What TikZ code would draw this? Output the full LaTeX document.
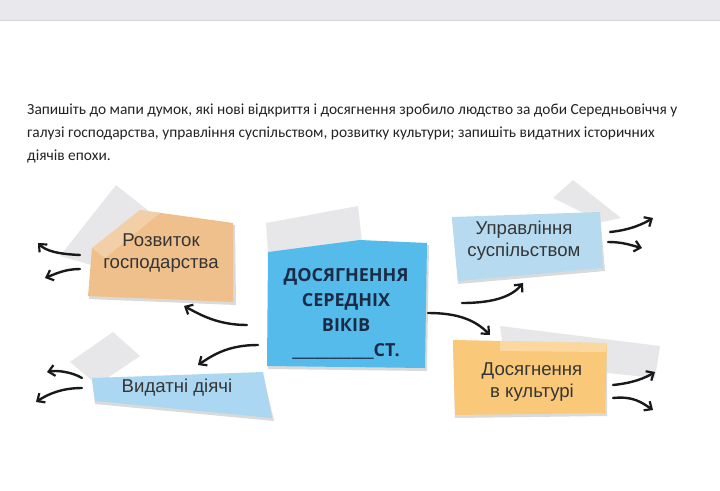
\documentclass[tikz,border=0pt]{standalone}
\usepackage{fontspec}
\setmainfont{Liberation Sans}
\newfontfamily\instrfont{Carlito}
\newfontfamily\headfont{Open Sans}
\usetikzlibrary{arrows.meta}
\definecolor{barcol}{HTML}{E9E9ED}
\definecolor{barline}{HTML}{D6D6DE}
\definecolor{orangeA}{HTML}{EFC08C}
\definecolor{orangeB}{HTML}{F9C878}
\definecolor{blueC}{HTML}{55BBEB}
\definecolor{blueL}{HTML}{ABD7F2}
\definecolor{blueU}{HTML}{B6DBF0}
\definecolor{tapecol}{HTML}{E7E7EA}
\definecolor{shadowcol}{HTML}{DADADA}
\definecolor{labelcol}{HTML}{353535}
\definecolor{headcol}{HTML}{1B2A45}
\definecolor{instrcol}{HTML}{232323}
\tikzset{
  arr/.style={line width=2.4pt, line cap=round, black!90,
    -{Straight Barb[length=6pt,width=11pt,line width=2.2pt]}},
  tape/.style={fill=tapecol, draw=none},
  shade/.style={fill=shadowcol, draw=none},
  lbl/.style={font=\fontsize{18.6}{22}\selectfont, text=labelcol, align=center, inner sep=0pt},
  instr/.style={font=\instrfont\fontsize{15.4}{16}\selectfont, text=instrcol, anchor=base west, inner sep=0pt},
  head/.style={font=\headfont\bfseries\fontsize{18}{25}\selectfont, text=headcol, align=center, inner sep=0pt}
}
\begin{document}
\begin{tikzpicture}[x=1pt,y=-1pt]
\useasboundingbox (0,0) rectangle (720,490);
\fill[white] (0,0) rectangle (720,490);
% top bar
\fill[barcol] (0,0) rectangle (720,20);
\draw[barline, line width=1pt] (0,20.5) -- (720,20.5);

% instruction text
\node[instr] (l1) at (27,114) {Запишіть до мапи думок, які нові відкриття і досягнення зробило людство за доби Середньовіччя у};
\node[instr] (l2) at (27,137) {галузі господарства, управління суспільством, розвитку культури; запишіть видатних історичних};
\node[instr] (l3) at (27,160) {діячів епохи.};

% ---- note: Розвиток господарства
\fill[tape] (60,256) -- (116,185) -- (150,212) -- (95,266) -- cycle;
\fill[shade] (92,250) -- (140,212) -- (235,225) -- (236,305) -- (89,299) -- cycle;
\fill[orangeA] (92,248) -- (140,210) -- (233,223) -- (233,302) -- (88,296) -- cycle;
\fill[white, opacity=0.25] (92,248) -- (140,210) -- (160,213) -- (105,258) -- cycle;
\node[lbl] (rozv) at (161,253) {Розвиток\\господарства};

% ---- note: Видатні діячі
\fill[tape] (70,362) -- (113,332) -- (140,356) -- (97,385) -- cycle;
\fill[shade] (92,380) -- (263,374) -- (274,421) -- (95,404) -- cycle;
\fill[blueL] (92,378) -- (263,372) -- (272,418) -- (95,401) -- cycle;
\node[lbl] (vyd) at (177,388) {Видатні діячі};

% ---- center note
\fill[tape] (266,223) -- (358,206) -- (362,242) -- (268,252) -- cycle;
\fill[shade] (268,254) -- (360,242) -- (429,245) -- (427,371) -- (268,369) -- cycle;
\fill[blueC] (268,252) -- (360,240) -- (427,243) -- (425,368) -- (267,366) -- cycle;
\node[head] (cent) at (346,314) {ДОСЯГНЕННЯ\\СЕРЕДНІХ\\ВІКІВ\\\_\_\_\_\_\_\_\_\_\_\_СТ.};

% ---- note: Управління суспільством
\fill[tape] (553,198) -- (573,180) -- (621,218) -- (602,222) -- cycle;
\fill[shade] (452,219) -- (600,214) -- (605,271) -- (458,284) -- cycle;
\fill[blueU] (452,217) -- (600,212) -- (603,268) -- (458,281) -- cycle;
\node[lbl] (upr) at (524,241) {Управління\\суспільством};

% ---- note: Досягнення в культурі
\fill[tape] (500,326) -- (660,346) -- (655,378) -- (505,362) -- cycle;
\fill[shade] (453,342) -- (607,345) -- (607,416) -- (455,418) -- cycle;
\fill[orangeB] (453,340) -- (607,343) -- (605,413) -- (455,415) -- cycle;
\fill[white, opacity=0.3] (500,341) -- (607,343) -- (606,352) -- (500,351) -- cycle;
\node[lbl] (kult) at (532,382) {Досягнення\\в культурі};

% ---- arrow coordinates
\coordinate (a1s) at (80,255);  \coordinate (a1e) at (38,243);
\coordinate (a2s) at (80,269);  \coordinate (a2e) at (45,278);
\coordinate (a3s) at (247,325); \coordinate (a3e) at (184,306);
\coordinate (a4s) at (258,345); \coordinate (a4e) at (198,365);
\coordinate (a5s) at (82,378);  \coordinate (a5e) at (47,372);
\coordinate (a6s) at (82,388);  \coordinate (a6e) at (36,402);
\coordinate (a7s) at (462,303); \coordinate (a7e) at (523,283);
\coordinate (a8s) at (428,313); \coordinate (a8e) at (490,335);
\coordinate (a9s) at (610,232); \coordinate (a9e) at (653,218);
\coordinate (a10s) at (608,242); \coordinate (a10e) at (642,248);
\coordinate (a11s) at (613,385); \coordinate (a11e) at (655,372);
\coordinate (a12s) at (613,398); \coordinate (a12e) at (653,410);

\draw[arr] (a1s) .. controls +(-22,-1) and +(8,8) .. (a1e);
\draw[arr] (a2s) .. controls +(-15,0) and +(10,-4) .. (a2e);
\draw[arr] (a3s) .. controls +(-30,0) and +(15,8) .. (a3e);
\draw[arr] (a4s) .. controls +(-30,0) and +(15,-10) .. (a4e);
\draw[arr] (a5s) .. controls +(-10,-6) and +(10,-2) .. (a5e);
\draw[arr] (a6s) .. controls +(-20,0) and +(12,-8) .. (a6e);
\draw[arr] (a7s) .. controls +(35,0) and +(-10,12) .. (a7e);
\draw[arr] (a8s) .. controls +(30,0) and +(-15,-15) .. (a8e);
\draw[arr] (a9s) .. controls +(20,-2) and +(-10,6) .. (a9e);
\draw[arr] (a10s) .. controls +(15,0) and +(-12,-3) .. (a10e);
\draw[arr] (a11s) .. controls +(20,-2) and +(-10,6) .. (a11e);
\draw[arr] (a12s) .. controls +(20,-2) and +(-12,-8) .. (a12e);
\end{tikzpicture}
\end{document}
